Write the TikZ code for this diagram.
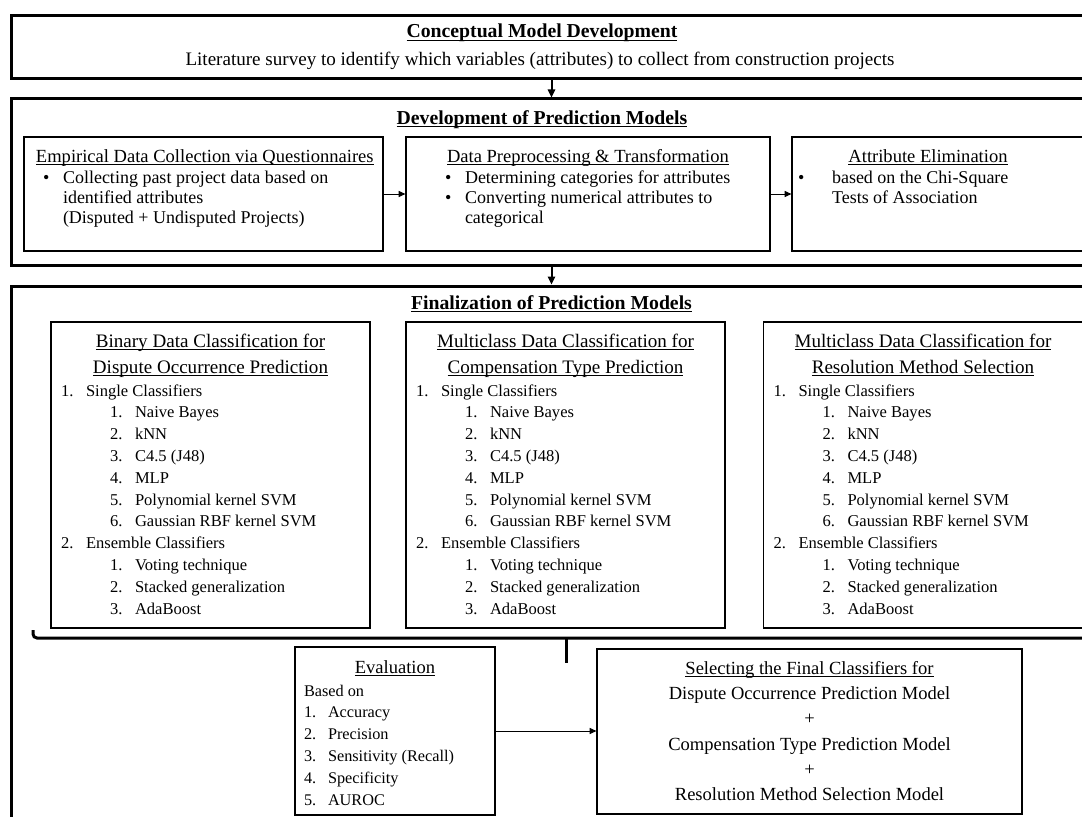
\documentclass[tikz,border=0pt]{standalone}
\usepackage{fontspec}
\setmainfont{Liberation Serif}
\usetikzlibrary{arrows.meta,fit}

% underline sitting just below the baseline, as in word-processor headings
\newsavebox{\ulbox}
\newcommand{\ulx}[1]{\sbox\ulbox{#1}\rlap{\vrule height -1.2pt depth 1.8pt width \wd\ulbox}\usebox\ulbox}

\tikzset{
  outerbox/.style={draw, line width=2.25pt, inner sep=0pt},
  innerbox/.style={draw, line width=0.9pt, inner sep=0pt},
  txt/.style={inner sep=0pt, outer sep=0pt},
  mainhead/.style={txt, anchor=base, font=\fontsize{14.8}{17}\selectfont\bfseries},
  bodybig/.style={txt, anchor=base, font=\fontsize{14.3}{17}\selectfont},
  boxhead/.style={txt, font=\fontsize{13.9}{16}\selectfont},
  bullettxt/.style={txt, anchor=base west, font=\fontsize{13.5}{16}\selectfont},
  colhead/.style={txt, anchor=base, font=\fontsize{14.3}{17}\selectfont},
  listtxt/.style={txt, anchor=base west, font=\fontsize{12.4}{15}\selectfont},
  evaltxt/.style={txt, anchor=base west, font=\fontsize{12.2}{15}\selectfont},
  selecttxt/.style={txt, anchor=base, font=\fontsize{13.9}{16}\selectfont},
  stagearrow/.style={line width=1.5pt, -{Triangle[length=6pt,width=5.5pt]}},
  linkarrow/.style={line width=0.75pt, -{Triangle[length=5pt,width=4.5pt]}},
  bracketline/.style={line width=2.25pt}
}

% one classifier column: #1 name, #2 left edge, #3/#4 heading lines
\newcommand{\classcol}[4]{%
  \node[innerbox, fit={(#2,322) (#2+319,628)}] (#1) {};
  \node[colhead] (#1-h1) at (#2+159.5,347) {\ulx{#3}};
  \node[colhead] (#1-h2) at (#2+159.5,373.5) {\ulx{#4}};
  \foreach \lv/\nm/\tx [count=\i from 0] in {%
      0/1./Single Classifiers,
      1/1./Naive Bayes,
      1/2./kNN,
      1/3./C4.5 (J48),
      1/4./MLP,
      1/5./Polynomial kernel SVM,
      1/6./Gaussian RBF kernel SVM,
      0/2./Ensemble Classifiers,
      1/1./Voting technique,
      1/2./Stacked generalization,
      1/3./AdaBoost}{%
    \node[listtxt] (#1-n\i) at (#2+10+49*\lv, 396+21.8*\i) {\nm};
    \node[listtxt] (#1-t\i) at (#2+35+49*\lv, 396+21.8*\i) {\tx};
  }%
}

\begin{document}
\begin{tikzpicture}[x=0.75pt,y=-0.75pt]
\useasboundingbox (0,0) rectangle (1082,817);
\fill[white] (0,0) rectangle (1082,817);
\clip (0,0) rectangle (1082,817);

% ---- stage 1: conceptual model
\node[outerbox, fit={(11,16) (1092,79)}] (concept) {};
\node[mainhead] (concept-h) at (542,38) {\ulx{Conceptual Model Development}};
\node[bodybig] (concept-t) at (540,65) {Literature survey to identify which variables (attributes) to collect from construction projects};

% ---- stage 2: development of prediction models
\node[outerbox, fit={(11,99) (1092,265)}] (dev) {};
\node[mainhead] (dev-h) at (542,124) {\ulx{Development of Prediction Models}};

\node[innerbox, fit={(24,137) (383,251)}] (collect) {};
\node[boxhead, anchor=base west] (collect-h) at (36,162.5) {\ulx{Empirical Data Collection via Questionnaires}};
\node[bullettxt] (collect-b1) at (43,183) {\textbullet};
\node[bullettxt] (collect-l1) at (63,183) {Collecting past project data based on};
\node[bullettxt] (collect-l2) at (63,203) {identified attributes};
\node[bullettxt] (collect-l3) at (63,223) {(Disputed + Undisputed Projects)};

\node[innerbox, fit={(406,137) (770,251)}] (prep) {};
\node[boxhead, anchor=base west] (prep-h) at (447,162.5) {\ulx{Data Preprocessing \& Transformation}};
\node[bullettxt] (prep-b1) at (445,183) {\textbullet};
\node[bullettxt] (prep-b2) at (445,203) {\textbullet};
\node[bullettxt] (prep-l1) at (465,183) {Determining categories for attributes};
\node[bullettxt] (prep-l2) at (465,203) {Converting numerical attributes to};
\node[bullettxt] (prep-l3) at (465,223) {categorical};

\node[innerbox, fit={(792,137) (1100,251)}] (elim) {};
\node[boxhead, anchor=base] (elim-h) at (928,162.5) {\ulx{Attribute Elimination}};
\node[bullettxt] (elim-b1) at (798,183) {\textbullet};
\node[bullettxt] (elim-l1) at (832,183) {based on the Chi-Square};
\node[bullettxt] (elim-l2) at (832,203) {Tests of Association};

\draw[linkarrow] (collect) -- (prep);
\draw[linkarrow] (prep) -- (elim);

% ---- stage 3: finalization of prediction models
\node[outerbox, fit={(11,286) (1092,840)}] (final) {};
\node[mainhead] (final-h) at (551.5,309) {\ulx{Finalization of Prediction Models}};

\classcol{binary}{51}{Binary Data Classification for}{Dispute Occurrence Prediction}
\classcol{comp}{406}{Multiclass Data Classification for}{Compensation Type Prediction}
\classcol{resol}{763.5}{Multiclass Data Classification for}{Resolution Method Selection}

% bracket gathering the three columns
\coordinate (brace-l) at (33,630);
\coordinate (brace-r) at (1100,638);
\coordinate (stem-top) at (566,638);
\coordinate (stem-bot) at (566,663);
\draw[bracketline, rounded corners=3pt] (brace-l) |- (brace-r);
\draw[bracketline] (stem-top) -- (stem-bot);

% evaluation
\node[innerbox, fit={(295,647) (495,815)}] (eval) {};
\node[boxhead, anchor=base] (eval-h) at (395,673) {\ulx{Evaluation}};
\node[evaltxt] (eval-0) at (304,696) {Based on};
\foreach \tx [count=\i] in {Accuracy, Precision, Sensitivity (Recall), Specificity, AUROC}{
  \node[evaltxt] (eval-n\i) at (304,696+21.8*\i) {\i.};
  \node[evaltxt] (eval-t\i) at (328,696+21.8*\i) {\tx};
}

% final selection
\node[innerbox, fit={(597,649) (1022,814)}] (select) {};
\node[selecttxt] (select-h) at (809.5,674) {\ulx{Selecting the Final Classifiers for}};
\node[selecttxt] (select-1) at (809.5,699.5) {Dispute Occurrence Prediction Model};
\node[selecttxt] (select-p1) at (809.5,724.8) {+};
\node[selecttxt] (select-2) at (809.5,750) {Compensation Type Prediction Model};
\node[selecttxt] (select-p2) at (809.5,775.3) {+};
\node[selecttxt] (select-3) at (809.5,800.6) {Resolution Method Selection Model};

% connectors between stages
\draw[stagearrow] (concept) -- (dev);
\draw[stagearrow] (dev) -- (final);
\draw[linkarrow] (eval.east) -- (eval.east -| select.west);
\end{tikzpicture}
\end{document}
